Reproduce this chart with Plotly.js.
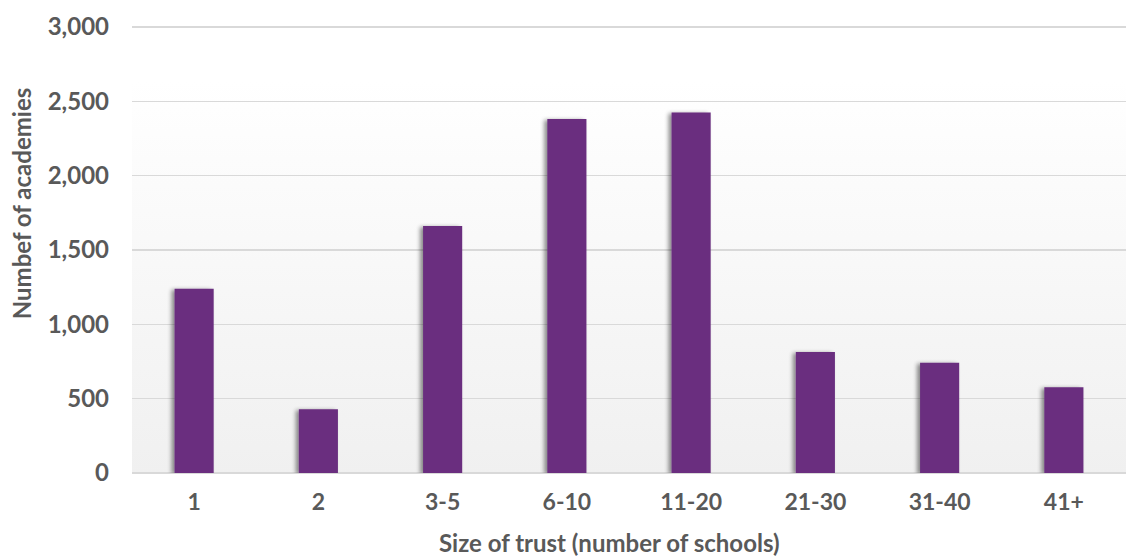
<!DOCTYPE html>
<html>
<head>
<meta charset="utf-8">
<script src="https://cdn.plot.ly/plotly-3.0.1.min.js"></script>
<style>
  html, body { margin: 0; padding: 0; background: #ffffff; }
  #wrap { position: relative; width: 1126px; height: 557px; }
  #bg { position: absolute; left: 132px; top: 27px; width: 994px; height: 446px;
        background: linear-gradient(to bottom, #ffffff 0%, #ffffff 12%, #f0f0f0 100%); }
  #chart { position: absolute; left: 0; top: 0; width: 1126px; height: 557px; }
  .barlayer path { filter: url(#barShadow); }
</style>
</head>
<body>
<svg width="0" height="0" style="position:absolute">
  <defs>
    <filter id="barShadow" x="-30%" y="-10%" width="160%" height="120%">
      <feGaussianBlur in="SourceAlpha" stdDeviation="2"/>
      <feOffset dx="-3" dy="1" result="blur"/>
      <feComponentTransfer><feFuncA type="linear" slope="0.45"/></feComponentTransfer>
      <feMerge><feMergeNode/><feMergeNode in="SourceGraphic"/></feMerge>
    </filter>
  </defs>
</svg>
<div id="wrap"><div id="bg"></div><div id="chart"></div></div>
<script>
const categories = ["1", "2", "3-5", "6-10", "11-20", "21-30", "31-40", "41+"];
const academies = [1240, 428, 1661, 2381, 2424, 814, 742, 577];
const yTickValues = [0, 500, 1000, 1500, 2000, 2500, 3000];
const yTickLabels = ["0", "500", "1,000", "1,500", "2,000", "2,500", "3,000"];
const xTitle = "Size of trust (number of schools)";
const yTitle = "Numbef of academies";

const textColor = "#595959";
const fontFamily = "Lato, 'Open Sans', sans-serif";

const trace = {
  type: "bar",
  x: categories,
  y: academies,
  marker: { color: "#6a2f7f", line: { width: 0 } },
  hoverinfo: "x+y"
};

const layout = {
  width: 1126,
  height: 557,
  margin: { l: 132, r: 0, t: 24, b: 84 },
  paper_bgcolor: "rgba(0,0,0,0)",
  plot_bgcolor: "rgba(0,0,0,0)",
  bargap: 0.685,
  showlegend: false,
  font: { family: fontFamily, color: textColor },
  xaxis: {
    type: "category",
    showgrid: false,
    zeroline: false,
    showline: false,
    ticks: "",
    ticklabelstandoff: 13,
    tickfont: { family: fontFamily, size: 23, color: textColor, weight: "bold" }
  },
  yaxis: {
    range: [0, 3020],
    tickvals: yTickValues,
    ticktext: yTickLabels,
    showgrid: true,
    gridcolor: "#d9d9d9",
    gridwidth: 1.5,
    zeroline: true,
    zerolinecolor: "#d9d9d9",
    zerolinewidth: 1.5,
    showline: false,
    ticks: "",
    ticklabelstandoff: 22,
    tickfont: { family: fontFamily, size: 24, color: textColor, weight: "bold" }
  },
  annotations: [
    {
      text: xTitle, xref: "paper", yref: "paper", x: 0.48, y: -0.155,
      xanchor: "center", yanchor: "middle", showarrow: false,
      font: { family: fontFamily, size: 24, color: textColor, weight: "bold" }
    },
    {
      text: yTitle, xref: "paper", yref: "paper", x: -0.111, y: 0.6,
      xanchor: "center", yanchor: "middle", showarrow: false, textangle: -90,
      font: { family: fontFamily, size: 24, color: textColor, weight: "bold" }
    }
  ]
};

Plotly.newPlot("chart", [trace], layout, { displayModeBar: false, staticPlot: true });
</script>
</body>
</html>
